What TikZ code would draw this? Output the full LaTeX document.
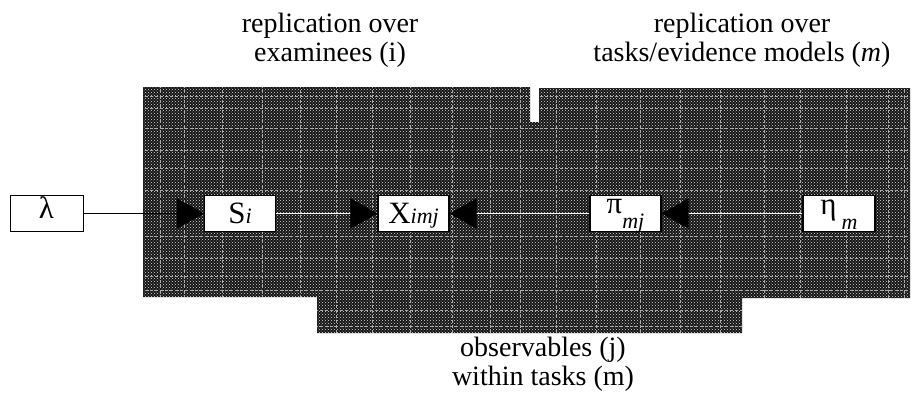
\documentclass[tikz,border=0pt]{standalone}
\usepackage{fontspec}
\setmainfont{Liberation Serif}
\usetikzlibrary{arrows.meta,patterns}
\tikzset{
  platefill/.style={fill=black!92},
  texture/.style={draw=gray!65, line width=0.8pt, dash pattern=on 3pt off 2pt},
  var/.style={draw=black, line width=1.2pt, fill=white, minimum width=71pt,
    inner xsep=0pt, inner ysep=4pt, text height=24pt, text depth=4pt,
    font=\fontsize{31}{31}\selectfont},
  lbl/.style={font=\fontsize{28}{28}\selectfont, anchor=base, inner sep=0pt},
  bigtip/.style={-{Triangle[length=27pt,width=30pt,color=black]}},
  link/.style={draw=white, line width=1.2pt, bigtip},
  blink/.style={draw=black, line width=1.3pt, bigtip}
}
\newcommand{\subtxt}[1]{{\fontsize{22}{22}\selectfont\itshape #1}}
\begin{document}
\begin{tikzpicture}[x=1pt,y=-1pt]
\useasboundingbox (0,0) rectangle (914,397);
\fill[white] (0,0) rectangle (914,397);
% plates
\begin{scope}
  \clip (143,87) rectangle (530,297) (317,122) rectangle (742,333) (539,88) rectangle (910,298);
  \fill[platefill] (0,0) rectangle (914,397);
  \fill[pattern=crosshatch dots, pattern color=gray!25] (0,0) rectangle (914,397);
  \foreach \yy in {96,108,128,150,168,190,236,258,276,290,310,326}
    \draw[texture] (140,\yy) -- (914,\yy);
  \foreach \xx in {160,184,222,262,300,336,372,410,452,490,520,556,596,640,680,720,764,800,846,888,904}
    \draw[texture] (\xx,85) -- (\xx,335);
\end{scope}
% titles
\node[lbl] (t1a) at (330,32) {replication over};
\node[lbl] (t1b) at (330,61) {examinees (i)};
\node[lbl] (t2a) at (742,32) {replication over};
\node[lbl] (t2b) at (742,61) {tasks/evidence models (\textit{m})};
\node[lbl] (t3a) at (543,356) {observables (j)};
\node[lbl] (t3b) at (543,385) {within tasks (m)};
% variables
\node[var, minimum width=73pt, line width=1pt] (lam) at (46.5,213.5) {\raisebox{5pt}{λ}};
\node[var] (S) at (240,213.5) {S\subtxt{i}};
\node[var] (X) at (413.5,213.5) {X\subtxt{imj}};
\node[var] (pi) at (625.5,213.5) {\raisebox{10pt}{π}\raisebox{-5pt}{\subtxt{mj}}};
\node[var, minimum width=72pt] (eta) at (839,213.5) {\raisebox{9pt}{η}\hspace{5pt}\raisebox{-6pt}{\subtxt{m}}};
% connectors
\draw[blink] (lam) -- (S);
\draw[link] (S) -- (X);
\draw[link] (pi) -- (X);
\draw[link] (eta) -- (pi);
\end{tikzpicture}
\end{document}
